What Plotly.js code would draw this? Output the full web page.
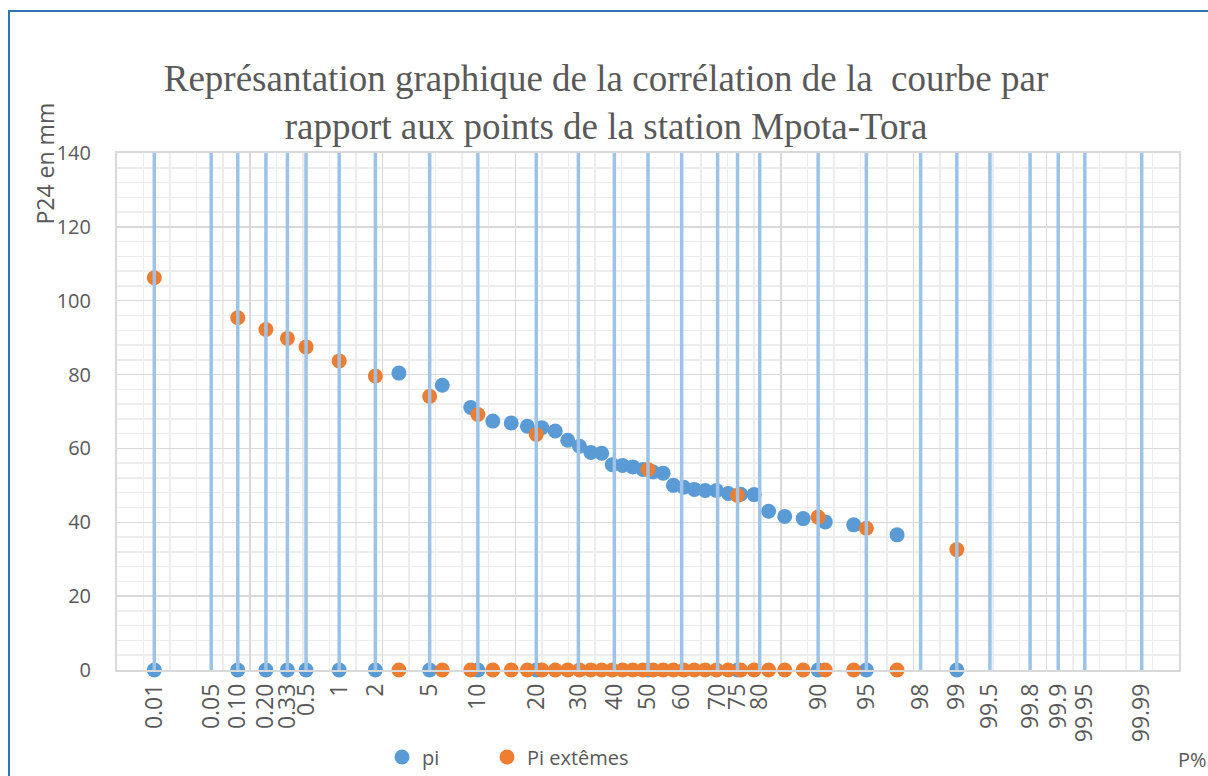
<!DOCTYPE html>
<html>
<head>
<meta charset="utf-8">
<script src="https://cdn.plot.ly/plotly-3.0.1.min.js"></script>
<style>
  html, body { margin:0; padding:0; background:#ffffff; }
  #frame { position:absolute; left:8px; top:10px; width:1300px; height:900px;
           border-left:2px solid #2E75B6; border-top:2px solid #2E75B6; pointer-events:none; z-index:2; }
  #chart { position:absolute; left:0; top:0; width:1208px; height:776px; }
</style>
</head>
<body>
<div id="chart"></div>
<div id="frame"></div>
<script>
// ---- Data ----
// Frequency (%) of each point, in plotting order
const freq = [0.01, 0.10, 0.20, 0.33, 0.5, 1, 2, 3.03, 5, 6.06, 9.09, 10, 12.12, 15.15, 18.18, 20,
  21.21, 24.24, 27.27, 30.30, 33.33, 36.36, 39.39, 42.42, 45.45, 48.48, 50, 51.52, 54.55, 57.58,
  60.61, 63.64, 66.67, 69.70, 72.73, 75, 75.76, 78.79, 81.82, 84.85, 87.88, 90, 90.91, 93.94, 95,
  96.97, 99];
// Series "pi" (0 where the extreme series holds the value)
const pi = [0, 0, 0, 0, 0, 0, 0, 80.4, 0, 77.1, 71.1, 0, 67.4, 66.9, 66.0, 0,
  65.6, 64.7, 62.2, 60.6, 58.9, 58.7, 55.6, 55.4, 55.0, 54.3, 0, 53.6, 53.3, 50.0,
  49.5, 48.9, 48.6, 48.6, 47.8, 0, 47.6, 47.5, 43.0, 41.6, 41.0, 0, 40.1, 39.3, 0,
  36.6, 0];
// Series "Pi extêmes" (0 where the pi series holds the value)
const piExt = [106.2, 95.4, 92.2, 89.8, 87.5, 83.7, 79.6, 0, 74.1, 0, 0, 69.2, 0, 0, 0, 63.8,
  0, 0, 0, 0, 0, 0, 0, 0, 0, 0, 54.3, 0, 0, 0,
  0, 0, 0, 0, 0, 47.3, 0, 0, 0, 0, 0, 41.4, 0, 0, 38.4,
  0, 32.6];
// Reference probability lines and their labels
const lineFreq = [0.01, 0.05, 0.10, 0.20, 0.33, 0.5, 1, 2, 5, 10, 20, 30, 40, 50, 60, 70, 75, 80,
  90, 95, 98, 99, 99.5, 99.8, 99.9, 99.95, 99.99];
const lineLabels = ["0.01", "0.05", "0.10", "0.20", "0.33", "0.5", "1", "2", "5", "10", "20", "30",
  "40", "50", "60", "70", "75", "80", "90", "95", "98", "99", "99.5", "99.8", "99.9", "99.95", "99.99"];
const yMax = 140;

// ---- Gauss (normal probability) scale ----
function normInv(p){
  const a=[-3.969683028665376e+01,2.209460984245205e+02,-2.759285104469687e+02,1.383577518672690e+02,-3.066479806614716e+01,2.506628277459239e+00];
  const b=[-5.447609879822406e+01,1.615858368580409e+02,-1.556989798598866e+02,6.680131188771972e+01,-1.328068155288572e+01];
  const c=[-7.784894002430293e-03,-3.223964580411365e-01,-2.400758277161838e+00,-2.549732539343734e+00,4.374664141464968e+00,2.938163982698783e+00];
  const d=[7.784695709041462e-03,3.224671290700398e-01,2.445134137142996e+00,3.754408661907416e+00];
  const pl=0.02425, ph=1-pl; let q,r;
  if(p<pl){q=Math.sqrt(-2*Math.log(p));return (((((c[0]*q+c[1])*q+c[2])*q+c[3])*q+c[4])*q+c[5])/((((d[0]*q+d[1])*q+d[2])*q+d[3])*q+1);}
  if(p<=ph){q=p-0.5;r=q*q;return (((((a[0]*r+a[1])*r+a[2])*r+a[3])*r+a[4])*r+a[5])*q/(((((b[0]*r+b[1])*r+b[2])*r+b[3])*r+b[4])*r+1);}
  q=Math.sqrt(-2*Math.log(1-p));return -(((((c[0]*q+c[1])*q+c[2])*q+c[3])*q+c[4])*q+c[5])/((((d[0]*q+d[1])*q+d[2])*q+d[3])*q+1);
}
const toU = f => normInv(f/100);
const xu = freq.map(toU);
const lineU = lineFreq.map(toU);

const vx = [], vy = [];
lineU.forEach(u => { vx.push(u, u, null); vy.push(0, yMax, null); });

const FONT = 'Open Sans, sans-serif';
const GREY = '#595959';

const traces = [
  { x: vx, y: vy, xaxis: 'x2', mode: 'lines', line: { color: '#9DC3E6', width: 3.5 },
    showlegend: false, hoverinfo: 'skip' },
  { x: xu, y: pi, name: 'pi', mode: 'markers', cliponaxis: false, legend: 'legend',
    marker: { color: '#5B9BD5', size: 15 } },
  { x: xu, y: piExt, name: 'Pi extêmes', mode: 'markers', cliponaxis: false, legend: 'legend2',
    marker: { color: '#ED7D31', size: 15 } }
];

const legendStyle = (xpx) => ({
  orientation: 'h', xref: 'container', yref: 'container',
  x: xpx/1208, xanchor: 'left', y: 1 - 757/776, yanchor: 'middle',
  font: { family: FONT, size: 20, color: GREY }, bgcolor: 'rgba(0,0,0,0)'
});

const layout = {
  width: 1208, height: 776,
  margin: { l: 117, r: 29, t: 153, b: 106, pad: 0 },
  paper_bgcolor: '#ffffff', plot_bgcolor: '#ffffff',
  font: { family: FONT, color: GREY },
  title: {
    text: 'Représantation graphique de la corrélation de la  courbe par<br>rapport aux points de la station Mpota-Tora',
    font: { family: 'Liberation Serif, Times New Roman, serif', size: 37, color: GREY },
    xref: 'container', x: 606/1208, xanchor: 'center',
    yref: 'container', y: 1 - 91/776, yanchor: 'top'
  },
  xaxis: {
    range: [-4, 4], tick0: 0, dtick: 1, showticklabels: false, ticks: '',
    showgrid: true, gridcolor: '#D9D9D9', gridwidth: 1.5,
    minor: { dtick: 0.2, showgrid: true, gridcolor: '#EDEDED', gridwidth: 1.5 },
    showline: true, mirror: true, linecolor: '#D9D9D9', linewidth: 2, zeroline: false
  },
  xaxis2: {
    overlaying: 'x', side: 'bottom', range: [-4, 4],
    tickmode: 'array', tickvals: lineU, ticktext: lineLabels, tickangle: -90,
    ticks: '', showgrid: false, zeroline: false, showline: false,
    tickfont: { family: FONT, size: 23, color: GREY }, ticklabelstandoff: 8
  },
  yaxis: {
    range: [0, yMax], dtick: 20, tick0: 0, ticks: '',
    showgrid: true, gridcolor: '#D9D9D9', gridwidth: 1.5,
    minor: { dtick: 4, showgrid: true, gridcolor: '#EDEDED', gridwidth: 1.5 },
    showline: true, mirror: true, linecolor: '#D9D9D9', linewidth: 2, zeroline: false,
    tickfont: { family: FONT, size: 20, color: GREY }, ticklabelstandoff: 20
  },
  legend: legendStyle(382),
  legend2: legendStyle(487),
  annotations: [
    { text: 'P24 en mm', textangle: -90, xref: 'paper', yref: 'paper',
      x: (45-117)/1062, y: (669.5-163)/517, xanchor: 'center', yanchor: 'middle',
      showarrow: false, font: { family: FONT, size: 23, color: GREY } },
    { text: 'P%', xref: 'paper', yref: 'paper',
      x: (1192-117)/1062, y: (669.5-759)/517, xanchor: 'center', yanchor: 'middle',
      showarrow: false, font: { family: FONT, size: 20, color: GREY } }
  ],
  showlegend: true
};

Plotly.newPlot('chart', traces, layout, { displayModeBar: false, staticPlot: true });
</script>
</body>
</html>
